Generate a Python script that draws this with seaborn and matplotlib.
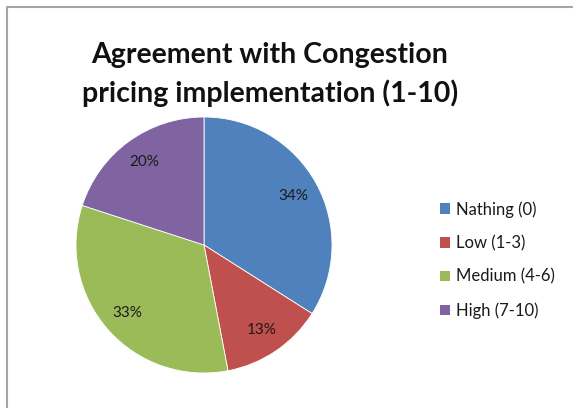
import matplotlib
matplotlib.use("Agg")
import matplotlib.pyplot as plt
from matplotlib.patches import Patch
from matplotlib.lines import Line2D
import seaborn as sns

categories = ["Nathing (0)", "Low (1-3)", "Medium (4-6)", "High (7-10)"]
shares = [34, 13, 33, 20]
colors = ["#4F81BD", "#C0504D", "#9BBB59", "#8064A2"]
title_lines = ["Agreement with Congestion", "pricing implementation (1-10)"]

sns.set_theme(style="white")
plt.rcParams["font.family"] = ["Lato", "DejaVu Sans"]

W, H = 573, 408
fig = plt.figure(figsize=(W / 100, H / 100), dpi=100)
fig.patch.set_facecolor("white")

# pie area: centre (204, 245), radius 128 px
cx, cy, r = 204, 245, 128
ax = fig.add_axes([(cx - r) / W, (H - cy - r) / H, 2 * r / W, 2 * r / H])
wedges, texts, autotexts = ax.pie(
    shares,
    colors=colors,
    startangle=90,
    counterclock=False,
    autopct=lambda p: f"{p:.0f}%",
    pctdistance=0.8,
    wedgeprops=dict(linewidth=0.6, edgecolor="white"),
    textprops=dict(fontsize=11, color="#1a1a1a"),
)
ax.set_xlim(-1, 1)
ax.set_ylim(-1, 1)
ax.set_aspect("equal")
ax.axis("off")

# title, two lines
for text, base in zip(title_lines, [63, 102]):
    fig.text(270 / W, 1 - base / H, text, ha="center", va="baseline",
             fontsize=20.5, fontweight="bold", color="#111111")

# legend
handles = [Patch(facecolor=c, edgecolor="none") for c in colors]
fig.legend(handles, categories, loc="center left",
           bbox_to_anchor=(432 / W, 1 - 260 / H),
           frameon=False, fontsize=12, handlelength=0.6, handleheight=0.6,
           handletextpad=0.35, labelspacing=1.05, borderpad=0,
           labelcolor="#1a1a1a")

# chart area border (top and left edges)
fig.add_artist(Line2D([7 / W, 7 / W], [0, 1 - 7 / H], color="#a6a6a6", lw=1.5,
                      transform=fig.transFigure))
fig.add_artist(Line2D([7 / W, 1], [1 - 7 / H, 1 - 7 / H], color="#a6a6a6", lw=1.5,
                      transform=fig.transFigure))

fig.savefig("out.png", dpi=100, facecolor="white")
